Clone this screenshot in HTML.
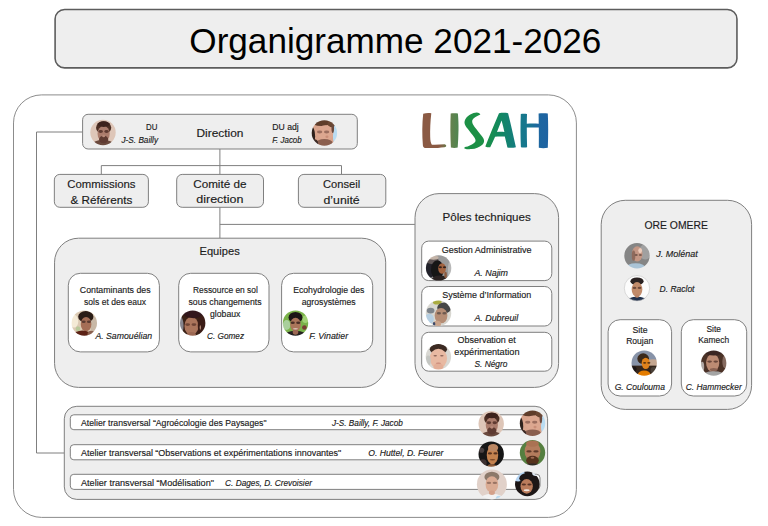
<!DOCTYPE html>
<html><head><meta charset="utf-8"><title>Organigramme 2021-2026</title>
<style>
html,body{margin:0;padding:0;background:#ffffff;}
body{width:768px;height:526px;overflow:hidden;font-family:"Liberation Sans",sans-serif;}
svg{display:block;font-family:"Liberation Sans",sans-serif;}
</style></head><body>
<svg width="768" height="526" viewBox="0 0 768 526">
<defs><filter id="bl" x="-20%" y="-20%" width="140%" height="140%"><feGaussianBlur stdDeviation="0.7"/></filter>
<linearGradient id="gL" x1="0" y1="0" x2="1" y2="0"><stop offset="0" stop-color="#8b5a44"/><stop offset="0.7" stop-color="#8b5a44"/><stop offset="0.88" stop-color="#7a6a46"/><stop offset="1" stop-color="#647c4a"/></linearGradient>
<linearGradient id="gI" x1="0" y1="0" x2="1" y2="0"><stop offset="0" stop-color="#66814e"/><stop offset="1" stop-color="#4f8650"/></linearGradient>
<linearGradient id="gA" x1="0" y1="0" x2="1" y2="0"><stop offset="0" stop-color="#1c9046"/><stop offset="0.45" stop-color="#12895f"/><stop offset="1" stop-color="#157c80"/></linearGradient>
<linearGradient id="gH" x1="0" y1="0" x2="1" y2="0"><stop offset="0" stop-color="#15798a"/><stop offset="0.3" stop-color="#177590"/><stop offset="0.62" stop-color="#1d67a0"/><stop offset="1" stop-color="#1f63a2"/></linearGradient>
</defs>
<rect x="55.10" y="9.45" width="681.85" height="58.45" rx="9.5" ry="9.5" fill="#eeeeee" stroke="#5c5c5c" stroke-width="1.6"/>
<text x="189.30" y="53.20" font-size="34.8" textLength="412.10" lengthAdjust="spacingAndGlyphs" fill="#000000" stroke="#000000" stroke-width="0">Organigramme 2021-2026</text>
<rect x="13.50" y="94.90" width="562.90" height="422.50" rx="28" ry="28" fill="#ffffff" stroke="#7f7f7f" stroke-width="0.9"/>
<path d="M82.60 132.00 L36.50 132.00 L36.50 453.00 L64.30 453.00" fill="none" stroke="#7f7f7f" stroke-width="1"/>
<path d="M219.90 149.00 L219.90 238.00" fill="none" stroke="#7f7f7f" stroke-width="1"/>
<path d="M101.30 174.40 L101.30 165.60 L341.50 165.60 L341.50 174.40" fill="none" stroke="#7f7f7f" stroke-width="1"/>
<path d="M219.90 224.40 L414.90 224.40" fill="none" stroke="#7f7f7f" stroke-width="1"/>
<rect x="82.60" y="114.30" width="274.70" height="34.70" rx="5.5" ry="5.5" fill="#eeeeee" stroke="#7f7f7f" stroke-width="1"/>
<text x="196.50" y="137.40" font-size="11.5" textLength="47.00" lengthAdjust="spacingAndGlyphs" fill="#1c1c1c" stroke="#1c1c1c" stroke-width="0.16">Direction</text>
<text x="146.00" y="130.40" font-size="8.8" textLength="11.40" lengthAdjust="spacingAndGlyphs" fill="#1c1c1c" stroke="#1c1c1c" stroke-width="0.16">DU</text>
<text x="121.50" y="142.80" font-size="8.8" textLength="36.50" lengthAdjust="spacingAndGlyphs" fill="#1c1c1c" stroke="#1c1c1c" stroke-width="0.16" font-style="italic">J-S. Bailly</text>
<text x="272.30" y="130.40" font-size="8.8" textLength="26.40" lengthAdjust="spacingAndGlyphs" fill="#1c1c1c" stroke="#1c1c1c" stroke-width="0.16">DU adj</text>
<text x="272.30" y="142.80" font-size="8.8" textLength="29.40" lengthAdjust="spacingAndGlyphs" fill="#1c1c1c" stroke="#1c1c1c" stroke-width="0.16" font-style="italic">F. Jacob</text>
<rect x="54.35" y="174.40" width="94.05" height="32.90" rx="5.5" ry="5.5" fill="#eeeeee" stroke="#7f7f7f" stroke-width="1"/>
<text x="67.30" y="187.90" font-size="11.5" textLength="68.20" lengthAdjust="spacingAndGlyphs" fill="#1c1c1c" stroke="#1c1c1c" stroke-width="0.16">Commissions</text>
<text x="70.50" y="203.50" font-size="11.5" textLength="61.80" lengthAdjust="spacingAndGlyphs" fill="#1c1c1c" stroke="#1c1c1c" stroke-width="0.16">&amp; Référents</text>
<rect x="176.70" y="174.40" width="86.80" height="32.90" rx="5.5" ry="5.5" fill="#eeeeee" stroke="#7f7f7f" stroke-width="1"/>
<text x="193.20" y="187.90" font-size="11.5" textLength="53.30" lengthAdjust="spacingAndGlyphs" fill="#1c1c1c" stroke="#1c1c1c" stroke-width="0.16">Comité de</text>
<text x="196.30" y="203.30" font-size="11.5" textLength="47.20" lengthAdjust="spacingAndGlyphs" fill="#1c1c1c" stroke="#1c1c1c" stroke-width="0.16">direction</text>
<rect x="298.40" y="174.40" width="87.40" height="32.90" rx="5.5" ry="5.5" fill="#eeeeee" stroke="#7f7f7f" stroke-width="1"/>
<text x="323.00" y="187.90" font-size="11.5" textLength="37.20" lengthAdjust="spacingAndGlyphs" fill="#1c1c1c" stroke="#1c1c1c" stroke-width="0.16">Conseil</text>
<text x="323.50" y="203.50" font-size="11.5" textLength="36.20" lengthAdjust="spacingAndGlyphs" fill="#1c1c1c" stroke="#1c1c1c" stroke-width="0.16">d’unité</text>
<rect x="54.55" y="238.20" width="331.15" height="149.20" rx="24" ry="24" fill="#eeeeee" stroke="#7f7f7f" stroke-width="1"/>
<text x="199.50" y="255.00" font-size="11.5" textLength="40.20" lengthAdjust="spacingAndGlyphs" fill="#1c1c1c" stroke="#1c1c1c" stroke-width="0.16">Equipes</text>
<rect x="68.30" y="273.30" width="91.10" height="78.60" rx="12" ry="12" fill="#ffffff" stroke="#7f7f7f" stroke-width="1"/>
<text x="79.80" y="293.00" font-size="9.2" textLength="70.80" lengthAdjust="spacingAndGlyphs" fill="#1c1c1c" stroke="#1c1c1c" stroke-width="0.16">Contaminants des</text>
<text x="84.00" y="304.60" font-size="9.2" textLength="62.00" lengthAdjust="spacingAndGlyphs" fill="#1c1c1c" stroke="#1c1c1c" stroke-width="0.16">sols et des eaux</text>
<text x="95.40" y="338.80" font-size="9.2" textLength="56.70" lengthAdjust="spacingAndGlyphs" fill="#1c1c1c" stroke="#1c1c1c" stroke-width="0.16" font-style="italic">A. Samouélian</text>
<rect x="178.70" y="273.30" width="90.30" height="78.60" rx="12" ry="12" fill="#ffffff" stroke="#7f7f7f" stroke-width="1"/>
<text x="193.00" y="293.00" font-size="9.2" textLength="64.80" lengthAdjust="spacingAndGlyphs" fill="#1c1c1c" stroke="#1c1c1c" stroke-width="0.16">Ressource en sol</text>
<text x="188.50" y="304.60" font-size="9.2" textLength="73.00" lengthAdjust="spacingAndGlyphs" fill="#1c1c1c" stroke="#1c1c1c" stroke-width="0.16">sous changements</text>
<text x="210.00" y="316.60" font-size="9.2" textLength="30.40" lengthAdjust="spacingAndGlyphs" fill="#1c1c1c" stroke="#1c1c1c" stroke-width="0.16">globaux</text>
<text x="207.00" y="338.80" font-size="9.2" textLength="37.00" lengthAdjust="spacingAndGlyphs" fill="#1c1c1c" stroke="#1c1c1c" stroke-width="0.16" font-style="italic">C. Gomez</text>
<rect x="281.60" y="273.30" width="91.10" height="78.60" rx="12" ry="12" fill="#ffffff" stroke="#7f7f7f" stroke-width="1"/>
<text x="293.20" y="293.00" font-size="9.2" textLength="71.20" lengthAdjust="spacingAndGlyphs" fill="#1c1c1c" stroke="#1c1c1c" stroke-width="0.16">Ecohydrologie des</text>
<text x="301.70" y="304.60" font-size="9.2" textLength="54.00" lengthAdjust="spacingAndGlyphs" fill="#1c1c1c" stroke="#1c1c1c" stroke-width="0.16">agrosystèmes</text>
<text x="309.20" y="338.80" font-size="9.2" textLength="38.90" lengthAdjust="spacingAndGlyphs" fill="#1c1c1c" stroke="#1c1c1c" stroke-width="0.16" font-style="italic">F. Vinatier</text>
<rect x="415.00" y="193.60" width="143.60" height="193.80" rx="24" ry="24" fill="#eeeeee" stroke="#7f7f7f" stroke-width="1"/>
<text x="442.50" y="221.20" font-size="11.5" textLength="88.30" lengthAdjust="spacingAndGlyphs" fill="#1c1c1c" stroke="#1c1c1c" stroke-width="0.16">Pôles techniques</text>
<rect x="421.70" y="241.10" width="130.10" height="39.50" rx="7" ry="7" fill="#ffffff" stroke="#7f7f7f" stroke-width="1"/>
<text x="441.70" y="252.50" font-size="9.2" textLength="89.90" lengthAdjust="spacingAndGlyphs" fill="#1c1c1c" stroke="#1c1c1c" stroke-width="0.16">Gestion Administrative</text>
<text x="474.40" y="275.60" font-size="9.2" textLength="33.60" lengthAdjust="spacingAndGlyphs" fill="#1c1c1c" stroke="#1c1c1c" stroke-width="0.16" font-style="italic">A. Najim</text>
<rect x="421.70" y="286.50" width="130.10" height="39.50" rx="7" ry="7" fill="#ffffff" stroke="#7f7f7f" stroke-width="1"/>
<text x="442.20" y="298.40" font-size="9.2" textLength="89.10" lengthAdjust="spacingAndGlyphs" fill="#1c1c1c" stroke="#1c1c1c" stroke-width="0.16">Système d’Information</text>
<text x="474.40" y="320.70" font-size="9.2" textLength="43.90" lengthAdjust="spacingAndGlyphs" fill="#1c1c1c" stroke="#1c1c1c" stroke-width="0.16" font-style="italic">A. Dubreuil</text>
<rect x="421.70" y="332.30" width="130.10" height="38.90" rx="7" ry="7" fill="#ffffff" stroke="#7f7f7f" stroke-width="1"/>
<text x="457.50" y="343.00" font-size="9.2" textLength="58.30" lengthAdjust="spacingAndGlyphs" fill="#1c1c1c" stroke="#1c1c1c" stroke-width="0.16">Observation et</text>
<text x="454.30" y="354.60" font-size="9.2" textLength="65.20" lengthAdjust="spacingAndGlyphs" fill="#1c1c1c" stroke="#1c1c1c" stroke-width="0.16">expérimentation</text>
<text x="474.40" y="366.70" font-size="9.2" textLength="33.10" lengthAdjust="spacingAndGlyphs" fill="#1c1c1c" stroke="#1c1c1c" stroke-width="0.16" font-style="italic">S. Négro</text>
<rect x="64.30" y="406.30" width="483.30" height="93.10" rx="12.5" ry="12.5" fill="#eeeeee" stroke="#7f7f7f" stroke-width="1"/>
<rect x="70.30" y="414.80" width="469.70" height="14.90" rx="3.5" ry="3.5" fill="#ffffff" stroke="#7f7f7f" stroke-width="1"/>
<rect x="70.30" y="444.70" width="469.70" height="15.10" rx="3.5" ry="3.5" fill="#ffffff" stroke="#7f7f7f" stroke-width="1"/>
<rect x="70.30" y="474.30" width="469.70" height="15.10" rx="3.5" ry="3.5" fill="#ffffff" stroke="#7f7f7f" stroke-width="1"/>
<text x="81.00" y="425.90" font-size="9.2" textLength="185.50" lengthAdjust="spacingAndGlyphs" fill="#1c1c1c" stroke="#1c1c1c" stroke-width="0.16">Atelier transversal “Agroécologie des Paysages"</text>
<text x="332.00" y="425.90" font-size="9.2" textLength="70.80" lengthAdjust="spacingAndGlyphs" fill="#1c1c1c" stroke="#1c1c1c" stroke-width="0.16" font-style="italic">J-S. Bailly, F. Jacob</text>
<text x="81.00" y="455.60" font-size="9.2" textLength="260.30" lengthAdjust="spacingAndGlyphs" fill="#1c1c1c" stroke="#1c1c1c" stroke-width="0.16">Atelier transversal “Observations et expérimentations innovantes"</text>
<text x="368.20" y="455.60" font-size="9.2" textLength="75.30" lengthAdjust="spacingAndGlyphs" fill="#1c1c1c" stroke="#1c1c1c" stroke-width="0.16" font-style="italic">O. Huttel, D. Feurer</text>
<text x="81.00" y="485.60" font-size="9.2" textLength="133.00" lengthAdjust="spacingAndGlyphs" fill="#1c1c1c" stroke="#1c1c1c" stroke-width="0.16">Atelier transversal “Modélisation"</text>
<text x="225.10" y="485.60" font-size="9.2" textLength="86.90" lengthAdjust="spacingAndGlyphs" fill="#1c1c1c" stroke="#1c1c1c" stroke-width="0.16" font-style="italic">C. Dages, D. Crevoisier</text>
<rect x="601.20" y="200.30" width="150.40" height="209.10" rx="24" ry="24" fill="#eeeeee" stroke="#7f7f7f" stroke-width="1"/>
<text x="644.50" y="228.50" font-size="11.6" textLength="63.40" lengthAdjust="spacingAndGlyphs" fill="#1c1c1c" stroke="#1c1c1c" stroke-width="0.16">ORE OMERE</text>
<text x="656.30" y="257.20" font-size="9.2" textLength="41.40" lengthAdjust="spacingAndGlyphs" fill="#1c1c1c" stroke="#1c1c1c" stroke-width="0.16" font-style="italic">J. Molénat</text>
<text x="659.60" y="292.10" font-size="9.2" textLength="34.90" lengthAdjust="spacingAndGlyphs" fill="#1c1c1c" stroke="#1c1c1c" stroke-width="0.16" font-style="italic">D. Raclot</text>
<rect x="608.10" y="319.70" width="63.50" height="76.30" rx="12" ry="12" fill="#ffffff" stroke="#7f7f7f" stroke-width="1"/>
<text x="632.50" y="332.50" font-size="9.2" textLength="15.00" lengthAdjust="spacingAndGlyphs" fill="#1c1c1c" stroke="#1c1c1c" stroke-width="0.16">Site</text>
<text x="626.20" y="343.80" font-size="9.2" textLength="27.10" lengthAdjust="spacingAndGlyphs" fill="#1c1c1c" stroke="#1c1c1c" stroke-width="0.16">Roujan</text>
<text x="614.70" y="389.90" font-size="9.2" textLength="50.30" lengthAdjust="spacingAndGlyphs" fill="#1c1c1c" stroke="#1c1c1c" stroke-width="0.16" font-style="italic">G. Coulouma</text>
<rect x="681.30" y="319.70" width="65.40" height="76.30" rx="12" ry="12" fill="#ffffff" stroke="#7f7f7f" stroke-width="1"/>
<text x="706.50" y="331.80" font-size="9.2" textLength="14.50" lengthAdjust="spacingAndGlyphs" fill="#1c1c1c" stroke="#1c1c1c" stroke-width="0.16">Site</text>
<text x="698.20" y="343.00" font-size="9.2" textLength="30.90" lengthAdjust="spacingAndGlyphs" fill="#1c1c1c" stroke="#1c1c1c" stroke-width="0.16">Kamech</text>
<text x="685.70" y="389.90" font-size="9.2" textLength="56.00" lengthAdjust="spacingAndGlyphs" fill="#1c1c1c" stroke="#1c1c1c" stroke-width="0.16" font-style="italic">C. Hammecker</text>
<g>
<path d="M423.2 113.7 C425.8 113.0 428.8 112.9 431.3 113.3 C430.4 121 430.0 130 430.2 137 C430.3 140.5 430.7 143.2 431.9 144.7 C435.8 144.9 440.5 144.6 444.6 144.3 C445.6 144.6 446.3 145.3 446.3 146.0 C445.9 146.8 445.2 147.2 444.4 147.3 C438.0 148.2 430.0 148.3 424.8 147.9 C423.6 147.5 423.0 146.6 422.9 145.4 C422.0 135 422.1 123 423.2 113.7 Z" fill="url(#gL)"/>
<path d="M450.7 113.6 C453.0 113.1 455.6 113.1 457.9 113.6 C458.4 119 458.6 125 458.5 130 C458.4 136 458.1 142 457.7 147.5 C455.5 148.0 453.1 148.0 450.9 147.5 C450.3 136 450.2 124 450.7 113.6 Z" fill="url(#gI)"/>
<path d="M464.5 122.9 C464.4 119.6 466.8 116.4 470.3 114.5 C472.4 113.3 474.8 112.6 476.8 112.5 C478.4 112.6 479.8 113.4 480.4 114.5 C478.6 115.2 476.9 116.0 475.5 117.0 C474.0 118.0 472.8 119.1 472.3 120.3 C472.0 121.6 472.3 123.0 472.9 124.2 C475.0 127.8 478.0 131.0 480.1 134.0 C481.8 136.0 483.6 138.0 484.0 139.9 C484.3 141.8 483.6 143.6 482.0 145.0 C479.4 147.4 475.6 148.7 471.6 149.1 C469.2 149.4 466.4 149.2 464.4 148.4 C464.2 147.9 464.4 147.4 464.9 147.0 C466.8 146.8 468.6 146.2 470.3 145.2 C472.6 144.2 474.6 142.8 475.5 141.2 C475.7 139.8 475.1 138.5 474.2 137.3 C472.2 134.4 469.6 131.4 467.7 128.8 C466.2 127.0 464.8 125.0 464.5 122.9 Z" fill="#1c9046"/>
<path d="M499.0 113.3 C501.8 112.7 505.2 112.7 508.1 113.2 C510.8 124 513.4 136 515.9 147.3 C513.2 148.0 510.0 148.0 507.4 147.6 C506.6 144.0 505.7 140.2 504.8 136.6 C501.6 136.3 498.2 136.3 495.1 136.7 C493.4 140.2 491.8 144.0 490.2 147.3 C488.6 147.5 486.8 147.2 485.3 146.5 C489.6 135.5 494.4 124 499.0 113.3 Z M501.6 120.4 C500.0 124.2 498.4 128.2 497.0 132.0 C499.4 131.8 502.0 131.8 504.4 132.0 C503.6 128.2 502.6 124.2 501.6 120.4 Z" fill="url(#gA)" fill-rule="evenodd"/>
<path d="M520.8 114.0 C522.8 113.6 525.0 113.6 527.0 114.0 C526.9 117.2 526.8 120.4 526.8 123.7 C530.6 123.5 534.8 123.5 538.7 123.7 C538.7 120.3 538.7 116.9 538.6 113.6 C541.4 113.1 545.0 113.1 547.8 113.6 C548.3 124 548.3 136 547.8 147.8 C545.0 148.3 541.6 148.3 538.8 147.8 C538.9 141.2 538.9 134.2 538.8 127.6 C534.8 127.4 530.6 127.4 526.8 127.6 C526.8 134.2 526.9 141.0 527.1 147.3 C525.1 147.7 522.9 147.7 520.9 147.3 C520.4 136 520.4 124 520.8 114.0 Z" fill="url(#gH)"/>
</g>
<clipPath id="c1"><circle cx="103.00" cy="132.50" r="12.70"/></clipPath>
<g clip-path="url(#c1)"><g filter="url(#bl)">
<rect x="87.30" y="116.80" width="31.40" height="31.40" fill="#dec6b8"/>
<ellipse cx="103.00" cy="145.20" rx="11.43" ry="5.08" fill="#6a4a3e"/>
<ellipse cx="103.64" cy="127.67" rx="7.62" ry="6.35" fill="#4b2d24"/>
<ellipse cx="103.64" cy="133.77" rx="6.10" ry="7.87" fill="#ab7c6c"/>
<ellipse cx="100.70" cy="131.48" rx="2.24" ry="1.43" fill="#5e3a30"/>
<ellipse cx="106.57" cy="131.48" rx="2.24" ry="1.43" fill="#5e3a30"/>
<ellipse cx="103.64" cy="139.49" rx="4.57" ry="3.81" fill="#5f3a30"/>
<ellipse cx="103.64" cy="136.06" rx="1.52" ry="1.27" fill="#b98a7a"/>
<ellipse cx="103.64" cy="124.12" rx="6.10" ry="2.79" fill="#3c221c"/>
</g></g>
<clipPath id="c2"><circle cx="324.40" cy="133.00" r="12.70"/></clipPath>
<g clip-path="url(#c2)"><g filter="url(#bl)">
<rect x="308.70" y="117.30" width="31.40" height="31.40" fill="#d9a48c"/>
<ellipse cx="337.35" cy="134.27" rx="4.57" ry="13.97" fill="#b9dcf2"/>
<ellipse cx="311.06" cy="136.18" rx="4.06" ry="10.16" fill="#2e201e"/>
<ellipse cx="321.22" cy="121.57" rx="10.16" ry="4.44" fill="#5e3c2c"/>
<ellipse cx="331.38" cy="123.47" rx="3.81" ry="3.81" fill="#6a4632"/>
<ellipse cx="325.42" cy="133.00" rx="7.87" ry="7.87" fill="#dca790"/>
<ellipse cx="324.40" cy="142.91" rx="8.38" ry="3.81" fill="#8a5f50"/>
<ellipse cx="314.24" cy="143.16" rx="3.81" ry="3.81" fill="#3c2a26"/>
<ellipse cx="319.64" cy="131.98" rx="2.67" ry="1.43" fill="#9c6e5e"/>
<ellipse cx="326.62" cy="131.98" rx="2.67" ry="1.43" fill="#9c6e5e"/>
<ellipse cx="326.94" cy="136.81" rx="1.52" ry="1.27" fill="#c98e78"/>
<ellipse cx="332.78" cy="128.56" rx="1.27" ry="4.44" fill="#6a4a3c"/>
</g></g>
<clipPath id="c3"><circle cx="84.30" cy="323.10" r="12.70"/></clipPath>
<g clip-path="url(#c3)"><g filter="url(#bl)">
<rect x="68.60" y="307.40" width="31.40" height="31.40" fill="#dccab4"/>
<ellipse cx="74.14" cy="321.20" rx="4.06" ry="6.35" fill="#f4ead6"/>
<ellipse cx="93.82" cy="324.37" rx="3.81" ry="7.62" fill="#c8b8a6"/>
<ellipse cx="85.82" cy="316.75" rx="7.62" ry="5.71" fill="#2a1a14"/>
<ellipse cx="86.08" cy="324.12" rx="5.33" ry="7.11" fill="#a56e56"/>
<ellipse cx="83.68" cy="321.83" rx="2.03" ry="1.27" fill="#5a3a30"/>
<ellipse cx="88.99" cy="321.83" rx="2.03" ry="1.27" fill="#5a3a30"/>
<ellipse cx="82.39" cy="335.80" rx="9.52" ry="5.33" fill="#5c2414"/>
<ellipse cx="91.28" cy="334.53" rx="3.81" ry="3.81" fill="#8a6050"/>
<ellipse cx="77.95" cy="328.81" rx="2.29" ry="2.54" fill="#b9c89a"/>
</g></g>
<clipPath id="c4"><circle cx="192.70" cy="323.10" r="12.70"/></clipPath>
<g clip-path="url(#c4)"><g filter="url(#bl)">
<rect x="177.00" y="307.40" width="31.40" height="31.40" fill="#3b2019"/>
<ellipse cx="180.00" cy="325.64" rx="3.56" ry="9.52" fill="#86858e"/>
<ellipse cx="191.43" cy="325.89" rx="6.99" ry="9.14" fill="#ab745c"/>
<ellipse cx="193.97" cy="313.58" rx="10.79" ry="4.57" fill="#33191a"/>
<ellipse cx="201.84" cy="325.64" rx="4.06" ry="10.16" fill="#3a1e16"/>
<ellipse cx="187.65" cy="324.62" rx="2.40" ry="1.27" fill="#6e4436"/>
<ellipse cx="193.94" cy="324.62" rx="2.40" ry="1.27" fill="#6e4436"/>
<ellipse cx="200.32" cy="327.55" rx="0.64" ry="2.29" fill="#b38a78"/>
<ellipse cx="191.43" cy="334.53" rx="4.44" ry="2.54" fill="#9c6852"/>
</g></g>
<clipPath id="c5"><circle cx="295.50" cy="323.10" r="12.70"/></clipPath>
<g clip-path="url(#c5)"><g filter="url(#bl)">
<rect x="279.80" y="307.40" width="31.40" height="31.40" fill="#7ab24a"/>
<ellipse cx="286.61" cy="325.00" rx="3.81" ry="5.08" fill="#a9cf9c"/>
<ellipse cx="305.41" cy="319.29" rx="3.17" ry="3.81" fill="#a2d274"/>
<ellipse cx="304.39" cy="327.55" rx="2.29" ry="2.29" fill="#7a3a30"/>
<ellipse cx="295.50" cy="317.39" rx="6.99" ry="5.33" fill="#1e1818"/>
<ellipse cx="295.50" cy="324.62" rx="5.33" ry="6.99" fill="#aa745a"/>
<ellipse cx="292.71" cy="322.85" rx="2.13" ry="1.27" fill="#4a2e26"/>
<ellipse cx="298.29" cy="322.85" rx="2.13" ry="1.27" fill="#4a2e26"/>
<ellipse cx="295.50" cy="336.44" rx="12.06" ry="5.71" fill="#262020"/>
<ellipse cx="295.50" cy="331.99" rx="2.79" ry="2.79" fill="#9c6852"/>
<ellipse cx="295.50" cy="328.81" rx="2.54" ry="0.64" fill="#e8d8d0"/>
</g></g>
<clipPath id="c6"><circle cx="438.60" cy="267.90" r="12.70"/></clipPath>
<g clip-path="url(#c6)"><g filter="url(#bl)">
<rect x="422.90" y="252.20" width="31.40" height="31.40" fill="#9a9a9a"/>
<ellipse cx="429.08" cy="270.44" rx="6.35" ry="7.62" fill="#23232b"/>
<ellipse cx="432.25" cy="260.28" rx="6.35" ry="3.81" fill="#5e5656"/>
<ellipse cx="437.33" cy="269.80" rx="6.35" ry="9.52" fill="#181418"/>
<ellipse cx="442.03" cy="268.53" rx="3.81" ry="5.33" fill="#a2633f"/>
<ellipse cx="440.31" cy="267.26" rx="1.60" ry="0.95" fill="#30201c"/>
<ellipse cx="444.51" cy="267.26" rx="1.60" ry="0.95" fill="#30201c"/>
<ellipse cx="439.87" cy="279.96" rx="8.25" ry="4.44" fill="#2a2424"/>
<ellipse cx="450.67" cy="270.44" rx="2.79" ry="10.16" fill="#b8b8b8"/>
<ellipse cx="445.59" cy="274.88" rx="1.27" ry="3.17" fill="#8a5a40"/>
<ellipse cx="433.52" cy="257.74" rx="5.08" ry="1.90" fill="#c4b4a8"/>
</g></g>
<clipPath id="c7"><circle cx="438.50" cy="313.20" r="12.70"/></clipPath>
<g clip-path="url(#c7)"><g filter="url(#bl)">
<rect x="422.80" y="297.50" width="31.40" height="31.40" fill="#d8d7d1"/>
<ellipse cx="437.23" cy="302.02" rx="4.44" ry="2.54" fill="#a9ab40"/>
<ellipse cx="444.21" cy="307.87" rx="6.99" ry="5.33" fill="#464646"/>
<ellipse cx="441.04" cy="315.74" rx="6.35" ry="7.62" fill="#b58d75"/>
<ellipse cx="438.88" cy="313.20" rx="2.13" ry="1.27" fill="#6e5a50"/>
<ellipse cx="444.47" cy="313.20" rx="2.13" ry="1.27" fill="#6e5a50"/>
<ellipse cx="429.36" cy="318.91" rx="4.44" ry="5.08" fill="#b6cfe2"/>
<ellipse cx="430.63" cy="310.66" rx="3.81" ry="2.79" fill="#7e858c"/>
<ellipse cx="437.23" cy="324.00" rx="3.81" ry="3.17" fill="#c9a48c"/>
<ellipse cx="434.06" cy="324.00" rx="1.27" ry="1.90" fill="#3a4a6a"/>
</g></g>
<clipPath id="c8"><circle cx="438.40" cy="356.80" r="12.70"/></clipPath>
<g clip-path="url(#c8)"><g filter="url(#bl)">
<rect x="422.70" y="341.10" width="31.40" height="31.40" fill="#d9d8d3"/>
<ellipse cx="438.40" cy="349.18" rx="8.64" ry="5.33" fill="#3b2a22"/>
<ellipse cx="438.40" cy="358.58" rx="8.64" ry="9.91" fill="#e8b9a2"/>
<ellipse cx="438.40" cy="366.96" rx="5.08" ry="3.81" fill="#e3ae97"/>
<ellipse cx="435.22" cy="355.78" rx="1.78" ry="0.76" fill="#8a6458"/>
<ellipse cx="441.83" cy="355.78" rx="1.78" ry="0.76" fill="#8a6458"/>
<ellipse cx="438.40" cy="363.15" rx="2.54" ry="0.64" fill="#c98878"/>
<ellipse cx="428.24" cy="360.61" rx="2.54" ry="5.08" fill="#c4c6c2"/>
</g></g>
<clipPath id="c9"><circle cx="637.00" cy="255.70" r="12.70"/></clipPath>
<g clip-path="url(#c9)"><g filter="url(#bl)">
<rect x="621.30" y="240.00" width="31.40" height="31.40" fill="#858585"/>
<ellipse cx="645.25" cy="251.89" rx="6.35" ry="7.62" fill="#a0a0a0"/>
<ellipse cx="637.25" cy="253.79" rx="5.33" ry="7.62" fill="#c49785"/>
<ellipse cx="640.17" cy="250.62" rx="1.90" ry="2.54" fill="#ecccbb"/>
<ellipse cx="635.73" cy="268.40" rx="10.16" ry="5.08" fill="#aac4d7"/>
<ellipse cx="633.57" cy="255.70" rx="1.78" ry="5.08" fill="#8f6a5c"/>
<ellipse cx="636.17" cy="255.06" rx="1.60" ry="0.95" fill="#7a5a4e"/>
<ellipse cx="640.37" cy="255.06" rx="1.60" ry="0.95" fill="#7a5a4e"/>
</g></g>
<clipPath id="c10"><circle cx="637.00" cy="288.20" r="12.70"/></clipPath>
<g clip-path="url(#c10)"><g filter="url(#bl)">
<rect x="621.30" y="272.50" width="31.40" height="31.40" fill="#fcfcfc"/>
<ellipse cx="637.00" cy="281.21" rx="6.60" ry="3.81" fill="#2a2220"/>
<ellipse cx="637.00" cy="289.47" rx="5.33" ry="7.37" fill="#c18b6b"/>
<ellipse cx="634.49" cy="287.95" rx="1.92" ry="1.11" fill="#6e4a3a"/>
<ellipse cx="639.51" cy="287.95" rx="1.92" ry="1.11" fill="#6e4a3a"/>
<ellipse cx="637.00" cy="301.53" rx="9.91" ry="4.83" fill="#20314e"/>
<ellipse cx="637.00" cy="296.07" rx="2.29" ry="1.78" fill="#ba8567"/>
</g></g>
<circle cx="637.00" cy="288.20" r="12.70" fill="none" stroke="#c4c4c4" stroke-width="0.6"/>
<clipPath id="c11"><circle cx="644.20" cy="363.10" r="12.70"/></clipPath>
<g clip-path="url(#c11)"><g filter="url(#bl)">
<rect x="628.50" y="347.40" width="31.40" height="31.40" fill="#8793a8"/>
<ellipse cx="653.09" cy="363.10" rx="7.62" ry="3.81" fill="#c4a690"/>
<rect x="628.96" y="365.64" width="30.48" height="12.70" fill="#35261e"/>
<ellipse cx="643.18" cy="358.66" rx="5.84" ry="5.33" fill="#3b291a"/>
<ellipse cx="645.72" cy="363.35" rx="4.06" ry="5.71" fill="#e0821a"/>
<ellipse cx="644.64" cy="362.85" rx="1.60" ry="0.95" fill="#5a3410"/>
<ellipse cx="648.84" cy="362.85" rx="1.60" ry="0.95" fill="#5a3410"/>
<ellipse cx="644.20" cy="374.53" rx="6.35" ry="4.06" fill="#e47c06"/>
<ellipse cx="653.73" cy="370.09" rx="3.17" ry="3.17" fill="#4a4038"/>
<ellipse cx="634.04" cy="368.81" rx="2.54" ry="2.54" fill="#1e1814"/>
</g></g>
<clipPath id="c12"><circle cx="713.70" cy="363.10" r="12.70"/></clipPath>
<g clip-path="url(#c12)"><g filter="url(#bl)">
<rect x="698.00" y="347.40" width="31.40" height="31.40" fill="#4b3028"/>
<ellipse cx="712.68" cy="362.85" rx="6.60" ry="8.89" fill="#bc8b73"/>
<ellipse cx="713.70" cy="352.31" rx="8.89" ry="3.17" fill="#3b2620"/>
<ellipse cx="709.61" cy="361.58" rx="2.35" ry="1.11" fill="#6a463a"/>
<ellipse cx="715.76" cy="361.58" rx="2.35" ry="1.11" fill="#6a463a"/>
<ellipse cx="713.70" cy="376.44" rx="12.06" ry="5.08" fill="#a4a4a4"/>
<ellipse cx="724.88" cy="361.83" rx="2.54" ry="6.35" fill="#856a5e"/>
<ellipse cx="713.70" cy="369.45" rx="3.81" ry="1.52" fill="#8a6252"/>
<ellipse cx="702.27" cy="366.91" rx="1.90" ry="5.08" fill="#b0a8a4"/>
</g></g>
<clipPath id="c13"><circle cx="491.20" cy="423.80" r="12.70"/></clipPath>
<g clip-path="url(#c13)"><g filter="url(#bl)">
<rect x="475.50" y="408.10" width="31.40" height="31.40" fill="#dec6b8"/>
<ellipse cx="491.20" cy="436.50" rx="11.43" ry="5.08" fill="#6a4a3e"/>
<ellipse cx="491.83" cy="418.97" rx="7.62" ry="6.35" fill="#4b2d24"/>
<ellipse cx="491.83" cy="425.07" rx="6.10" ry="7.87" fill="#ab7c6c"/>
<ellipse cx="488.90" cy="422.78" rx="2.24" ry="1.43" fill="#5e3a30"/>
<ellipse cx="494.77" cy="422.78" rx="2.24" ry="1.43" fill="#5e3a30"/>
<ellipse cx="491.83" cy="430.79" rx="4.57" ry="3.81" fill="#5f3a30"/>
<ellipse cx="491.83" cy="427.36" rx="1.52" ry="1.27" fill="#b98a7a"/>
<ellipse cx="491.83" cy="415.42" rx="6.10" ry="2.79" fill="#3c221c"/>
</g></g>
<clipPath id="c14"><circle cx="532.50" cy="423.30" r="12.70"/></clipPath>
<g clip-path="url(#c14)"><g filter="url(#bl)">
<rect x="516.80" y="407.60" width="31.40" height="31.40" fill="#d9a48c"/>
<ellipse cx="545.45" cy="424.57" rx="4.57" ry="13.97" fill="#b9dcf2"/>
<ellipse cx="519.16" cy="426.48" rx="4.06" ry="10.16" fill="#2e201e"/>
<ellipse cx="529.33" cy="411.87" rx="10.16" ry="4.44" fill="#5e3c2c"/>
<ellipse cx="539.49" cy="413.78" rx="3.81" ry="3.81" fill="#6a4632"/>
<ellipse cx="533.52" cy="423.30" rx="7.87" ry="7.87" fill="#dca790"/>
<ellipse cx="532.50" cy="433.21" rx="8.38" ry="3.81" fill="#8a5f50"/>
<ellipse cx="522.34" cy="433.46" rx="3.81" ry="3.81" fill="#3c2a26"/>
<ellipse cx="527.74" cy="422.28" rx="2.67" ry="1.43" fill="#9c6e5e"/>
<ellipse cx="534.72" cy="422.28" rx="2.67" ry="1.43" fill="#9c6e5e"/>
<ellipse cx="535.04" cy="427.11" rx="1.52" ry="1.27" fill="#c98e78"/>
<ellipse cx="540.88" cy="418.86" rx="1.27" ry="4.44" fill="#6a4a3c"/>
</g></g>
<clipPath id="c15"><circle cx="491.20" cy="454.10" r="12.70"/></clipPath>
<g clip-path="url(#c15)"><g filter="url(#bl)">
<rect x="475.50" y="438.40" width="31.40" height="31.40" fill="#181616"/>
<ellipse cx="492.47" cy="455.12" rx="5.71" ry="9.14" fill="#c3824f"/>
<ellipse cx="493.10" cy="447.75" rx="5.08" ry="3.81" fill="#bb8764"/>
<ellipse cx="489.93" cy="453.47" rx="2.13" ry="1.11" fill="#5a3420"/>
<ellipse cx="495.52" cy="453.47" rx="2.13" ry="1.11" fill="#5a3420"/>
<ellipse cx="482.94" cy="462.99" rx="3.81" ry="3.81" fill="#3c3232"/>
<ellipse cx="481.68" cy="450.29" rx="2.54" ry="2.54" fill="#4a4040"/>
<ellipse cx="491.83" cy="466.55" rx="4.44" ry="2.54" fill="#8a5a38"/>
<ellipse cx="492.47" cy="459.81" rx="2.79" ry="0.76" fill="#7a4828"/>
</g></g>
<clipPath id="c16"><circle cx="532.50" cy="452.70" r="12.70"/></clipPath>
<g clip-path="url(#c16)"><g filter="url(#bl)">
<rect x="516.80" y="437.00" width="31.40" height="31.40" fill="#547f3f"/>
<ellipse cx="532.50" cy="451.43" rx="7.87" ry="10.16" fill="#b37b5d"/>
<ellipse cx="532.50" cy="443.56" rx="6.35" ry="3.17" fill="#aa7252"/>
<ellipse cx="529.01" cy="451.43" rx="2.67" ry="1.11" fill="#5e3a2a"/>
<ellipse cx="535.99" cy="451.43" rx="2.67" ry="1.11" fill="#5e3a2a"/>
<ellipse cx="532.50" cy="460.57" rx="6.35" ry="4.83" fill="#54301f"/>
<ellipse cx="532.50" cy="457.78" rx="1.90" ry="1.02" fill="#9c6a50"/>
<ellipse cx="532.50" cy="467.31" rx="11.43" ry="3.81" fill="#2e2a24"/>
</g></g>
<clipPath id="c17"><circle cx="491.90" cy="484.40" r="15.00"/></clipPath>
<g clip-path="url(#c17)"><g filter="url(#bl)">
<rect x="473.90" y="466.40" width="36.00" height="36.00" fill="#e1d1c9"/>
<ellipse cx="491.90" cy="476.90" rx="7.50" ry="5.25" fill="#8c796b"/>
<ellipse cx="491.90" cy="484.40" rx="6.30" ry="8.25" fill="#daab93"/>
<ellipse cx="488.93" cy="482.90" rx="2.27" ry="1.12" fill="#9a7464"/>
<ellipse cx="494.87" cy="482.90" rx="2.27" ry="1.12" fill="#9a7464"/>
<ellipse cx="491.90" cy="500.15" rx="12.75" ry="6.30" fill="#f2f2f2"/>
<ellipse cx="498.65" cy="499.40" rx="3.00" ry="3.75" fill="#badaef"/>
<ellipse cx="491.90" cy="492.65" rx="3.00" ry="2.25" fill="#d4a18a"/>
</g></g>
<clipPath id="c18"><circle cx="527.30" cy="483.90" r="12.30"/></clipPath>
<g clip-path="url(#c18)"><g filter="url(#bl)">
<rect x="512.00" y="468.60" width="30.60" height="30.60" fill="#1e1717"/>
<ellipse cx="518.07" cy="475.29" rx="7.38" ry="6.15" fill="#b3d3f2"/>
<ellipse cx="527.91" cy="478.36" rx="8.61" ry="5.54" fill="#1f1717"/>
<ellipse cx="526.68" cy="486.36" rx="6.15" ry="7.38" fill="#ba7b5b"/>
<ellipse cx="523.84" cy="484.51" rx="2.17" ry="1.08" fill="#5a3428"/>
<ellipse cx="529.53" cy="484.51" rx="2.17" ry="1.08" fill="#5a3428"/>
<ellipse cx="526.68" cy="490.30" rx="3.08" ry="0.98" fill="#f1e7e1"/>
<ellipse cx="538.62" cy="487.59" rx="3.69" ry="9.84" fill="#1e1717"/>
<ellipse cx="535.91" cy="473.44" rx="3.69" ry="2.46" fill="#dfe9f4"/>
</g></g>
</svg>
</body></html>
